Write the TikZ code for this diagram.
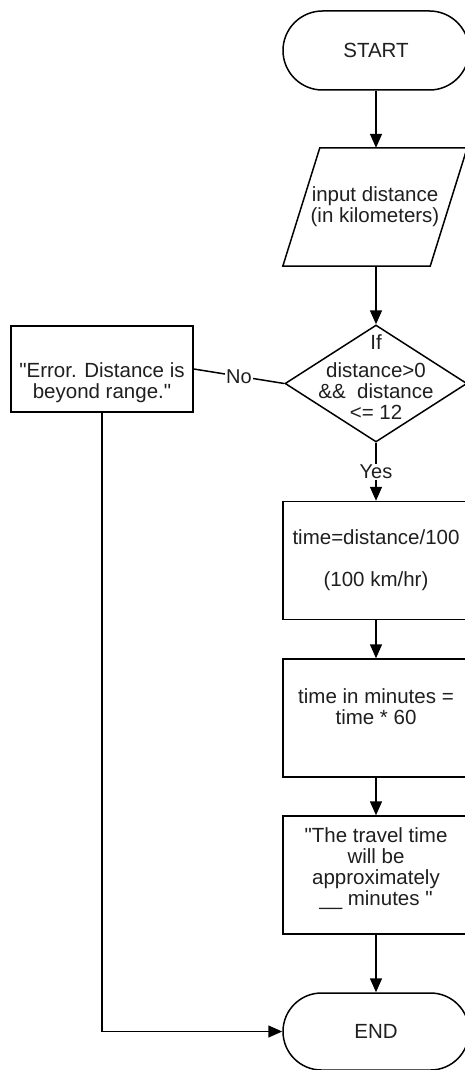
\documentclass[tikz,border=0pt]{standalone}
\usepackage{fontspec}
\setmainfont{Liberation Sans}[Ligatures=TeXOff]
\usetikzlibrary{shapes.geometric,shapes.misc,arrows.meta}
\tikzset{
  base/.style={draw=black, line width=1.5pt, font=\fontsize{20.5}{21}\selectfont, text=black!88, align=center},
  terminal/.style={base, rounded rectangle, minimum width=186pt, minimum height=79pt, inner sep=0pt},
  process/.style={base, rectangle, minimum width=186pt, minimum height=118pt, inner sep=0pt},
  decision/.style={base, diamond, minimum width=182pt, minimum height=117pt, inner sep=0pt},
  plain/.style={font=\fontsize{20.5}{21}\selectfont, text=black!88, align=center, inner sep=1pt},
  flow/.style={line width=1.5pt, -{Triangle[length=14pt,width=12pt]}},
  link/.style={line width=1.5pt},
  tag/.style={font=\fontsize{20}{21}\selectfont, text=black!88, fill=white, inner sep=1pt}
}
\begin{document}
\begin{tikzpicture}[x=1pt,y=-1pt]
  \fill[white] (0,0) rectangle (464,1070);
  \useasboundingbox (0,0) rectangle (464,1070);

  % main column
  \node[terminal] (start) at (376,50.5) {START};
  \node[plain, minimum width=147pt, minimum height=118pt, inner sep=0pt] (inp) at (375,207)
    {input distance\\(in kilometers)};
  \draw[link] ([xshift=-18.5pt]inp.south west) -- ([xshift=18.5pt]inp.north west)
    -- ([xshift=18.5pt]inp.north east) -- ([xshift=-18.5pt]inp.south east) -- cycle;
  \node[decision] (dec) at (376,383.5) {};
  \node[plain] (dectext) at (376,377) {If\\[7pt]distance>0\\\&\&\ \ distance\\<= 12};
  \node[process] (calc) at (376,560.5) {time=distance/100\\[21pt](100 km/hr)};
  \node[process] (mins) at (376,718) {time in minutes =\\time * 60\\[2pt]};
  \node[process] (msg) at (376,875) {"The travel time\\will be\\approximately\\\_\_ minutes "\\[-4pt]};
  \node[terminal, minimum height=77pt] (end) at (376,1031.5) {END};

  % error branch
  \node[process, minimum width=182pt, minimum height=86pt] (err) at (102,369) {};
  \node[plain] (errtext) at (102,383) {"Error. Distance is\\beyond range."};

  % connectors
  \draw[flow] (start.south) -- (start.south |- inp.north);
  \draw[flow] (start.south |- inp.south) -- (dec.north);
  \draw[flow] (dec.south) -- node[tag] (yes) {Yes} (calc.north);
  \draw[flow] (calc.south) -- (mins.north);
  \draw[flow] (mins.south) -- (msg.north);
  \draw[flow] (msg.south) -- (end.north);
  \draw[link] (dec.west) -- node[tag] (no) {No} (err.east);
  \draw[flow] (err.south) |- (end.west);
\end{tikzpicture}
\end{document}
